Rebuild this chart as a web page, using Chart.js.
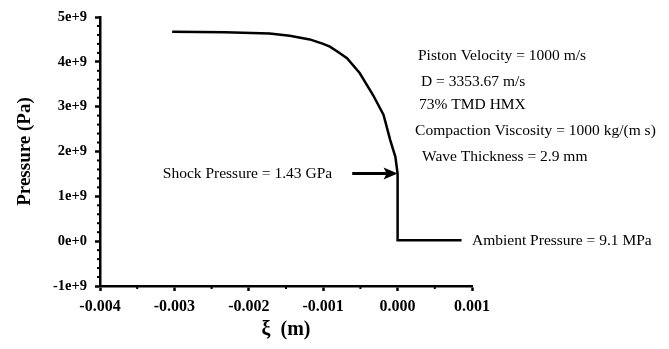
<!DOCTYPE html>
<html>
<head>
<meta charset="utf-8">
<script src="https://cdn.jsdelivr.net/npm/chart.js@4/dist/chart.umd.min.js"></script>
<style>
  body { margin: 0; background: #fff; }
  canvas { display: block; }
</style>
</head>
<body>
<canvas id="pressureChart" width="669" height="349"></canvas>
<script>
// position xi (m) and pressure (Pa)
const xiValues = [-0.00303, -0.00232, -0.00172, -0.00145, -0.00118, -0.00100, -0.00091, -0.00080, -0.00068,
                  -0.00051, -0.00033, -0.00019, -0.00017, -0.00010, -0.00003, 0.0, 0.0, 0.00086];
const pressureValues = [4.67e9, 4.66e9, 4.63e9, 4.58e9, 4.50e9, 4.40e9, 4.34e9, 4.22e9, 4.08e9,
                        3.75e9, 3.26e9, 2.82e9, 2.70e9, 2.26e9, 1.88e9, 1.51e9, 0.02e9, 0.02e9];

const xTicks = [-0.004, -0.003, -0.002, -0.001, 0.000, 0.001];
const yTicks = [-1e9, 0, 1e9, 2e9, 3e9, 4e9, 5e9];

// text notes, placed in data units
const noteLines = [
    { text: "Piston Velocity = 1000 m/s", x: 0.000274, y: 4.14e9 },
    { text: "D = 3353.67 m/s", x: 0.000315, y: 3.56e9 },
    { text: "73% TMD HMX", x: 0.000288, y: 3.05e9 },
    { text: "Compaction Viscosity = 1000 kg/(m s)", x: 0.000235, y: 2.47e9 },
    { text: "Wave Thickness = 2.9 mm", x: 0.000328, y: 1.89e9 }
];
const shockNote = { text: "Shock Pressure = 1.43 GPa", x: -0.00088, y: 1.51e9, arrowFrom: -0.00061, arrowTo: 0.0 };
const ambientNote = { text: "Ambient Pressure = 9.1 MPa", x: 0.001, y: 0.0 };

const points = xiValues.map((x, i) => ({ x: x, y: pressureValues[i] }));

// minor ticks + text notes
const extrasPlugin = {
    id: 'extras',
    afterDraw(chart) {
        const ctx = chart.ctx;
        const xs = chart.scales.x;
        const ys = chart.scales.y;
        ctx.save();
        ctx.strokeStyle = '#000';
        ctx.lineWidth = 2;

        // minor ticks on y: 5 subdivisions
        for (let i = 0; i < yTicks.length - 1; i++) {
            for (let k = 1; k < 5; k++) {
                const py = ys.getPixelForValue(yTicks[i] + (yTicks[i + 1] - yTicks[i]) * k / 5);
                ctx.beginPath();
                ctx.moveTo(chart.chartArea.left - 3, py);
                ctx.lineTo(chart.chartArea.left, py);
                ctx.stroke();
            }
        }
        // minor ticks on x: midpoints
        for (let i = 0; i < xTicks.length - 1; i++) {
            const px = xs.getPixelForValue((xTicks[i] + xTicks[i + 1]) / 2);
            ctx.beginPath();
            ctx.moveTo(px, chart.chartArea.bottom);
            ctx.lineTo(px, chart.chartArea.bottom + 3);
            ctx.stroke();
        }

        ctx.fillStyle = '#000';
        ctx.font = '15.5px "Liberation Serif", serif';
        ctx.textBaseline = 'middle';
        ctx.textAlign = 'left';
        noteLines.forEach(n => {
            ctx.fillText(n.text, xs.getPixelForValue(n.x), ys.getPixelForValue(n.y));
        });
        ctx.fillText(ambientNote.text, xs.getPixelForValue(ambientNote.x), ys.getPixelForValue(ambientNote.y));

        ctx.textAlign = 'right';
        const sy = ys.getPixelForValue(shockNote.y);
        ctx.fillText(shockNote.text, xs.getPixelForValue(shockNote.x), sy);

        // arrow
        const ax0 = xs.getPixelForValue(shockNote.arrowFrom);
        const ax1 = xs.getPixelForValue(shockNote.arrowTo);
        ctx.lineWidth = 3;
        ctx.beginPath();
        ctx.moveTo(ax0, sy);
        ctx.lineTo(ax1 - 10, sy);
        ctx.stroke();
        ctx.beginPath();
        ctx.moveTo(ax1, sy);
        ctx.lineTo(ax1 - 14, sy - 6);
        ctx.lineTo(ax1 - 11, sy);
        ctx.lineTo(ax1 - 14, sy + 6);
        ctx.closePath();
        ctx.fill();
        ctx.restore();
    }
};

Chart.defaults.color = '#000';

new Chart(document.getElementById('pressureChart'), {
    type: 'scatter',
    data: {
        datasets: [{
            data: points,
            showLine: true,
            borderColor: '#000',
            borderWidth: 2.5,
            pointRadius: 0,
            tension: 0,
            fill: false
        }]
    },
    options: {
        responsive: false,
        animation: false,
        layout: { padding: { top: 17, right: 197, left: 0, bottom: 0 } },
        plugins: {
            legend: { display: false },
            tooltip: { enabled: false }
        },
        scales: {
            x: {
                type: 'linear',
                min: -0.004,
                max: 0.001,
                afterFit: s => { s.height = 63; },
                afterBuildTicks: s => { s.ticks = xTicks.map(v => ({ value: v })); },
                ticks: {
                    padding: 6,
                    maxRotation: 0,
                    font: { family: '"Liberation Serif", serif', size: 16, weight: 'bold' },
                    callback: v => (Math.abs(v) < 1e-9 ? 0 : v).toFixed(3)
                },
                grid: { drawOnChartArea: false, tickLength: 5, tickWidth: 2.5, tickColor: '#000' },
                border: { color: '#000', width: 2.5 },
                title: {
                    display: true,
                    text: 'ξ  (m)',
                    padding: { top: 0, bottom: 7 },
                    font: { family: '"Liberation Serif", serif', size: 20, weight: 'bold' }
                }
            },
            y: {
                type: 'linear',
                min: -1e9,
                max: 5e9,
                afterFit: s => { s.width = 100; },
                afterBuildTicks: s => { s.ticks = yTicks.map(v => ({ value: v })); },
                ticks: {
                    padding: 8,
                    font: { family: '"Liberation Serif", serif', size: 14.5, weight: 'bold' },
                    callback: v => v === 0 ? '0e+0' : Math.round(v / 1e9) + 'e+9'
                },
                grid: { drawOnChartArea: false, tickLength: 5, tickWidth: 2.5, tickColor: '#000' },
                border: { color: '#000', width: 2.5 },
                title: {
                    display: true,
                    text: 'Pressure (Pa)',
                    padding: { top: 14, bottom: 0 },
                    font: { family: '"Liberation Serif", serif', size: 19, weight: 'bold' }
                }
            }
        }
    },
    plugins: [extrasPlugin]
});
</script>
</body>
</html>
